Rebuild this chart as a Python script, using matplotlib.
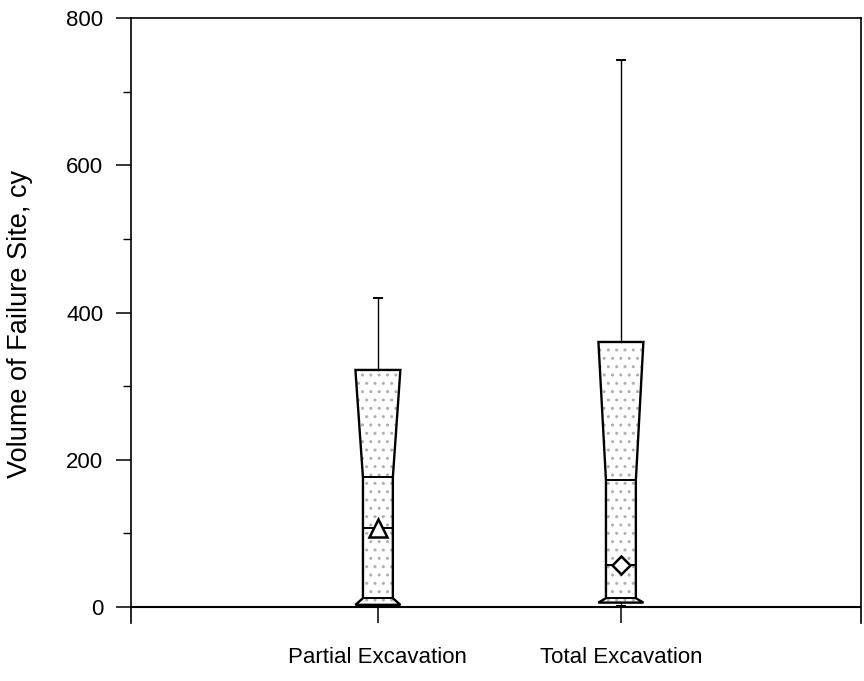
import matplotlib
matplotlib.use("Agg")
import matplotlib.pyplot as plt
from matplotlib.patches import Polygon

plt.rcParams['font.family'] = ['Liberation Sans', 'DejaVu Sans']
plt.rcParams['hatch.linewidth'] = 1.0

# values
categories = ['Partial Excavation', 'Total Excavation']
whisker_lo = [0, 1]
q1 = [3, 6]
notch_lo = [12, 12]
median = [176, 172]
q3 = [322, 360]
whisker_hi = [420, 743]
means = [108, 57]
mean_markers = ['^', 'D']

fig = plt.figure(figsize=(8.64, 6.81), dpi=100)
ax = fig.add_axes([131 / 864, 1 - 623 / 681, 730 / 864, 605 / 681])

w_full = 0.185
w_notch = 0.123
cap = 0.035

for i, name in enumerate(categories):
    x = i + 1
    pts = [(x - w_full / 2, q1[i]), (x + w_full / 2, q1[i]),
           (x + w_notch / 2, notch_lo[i]), (x + w_notch / 2, median[i]),
           (x + w_full / 2, q3[i]), (x - w_full / 2, q3[i]),
           (x - w_notch / 2, median[i]), (x - w_notch / 2, notch_lo[i])]
    # stippled fill, then outline
    ax.add_patch(Polygon(pts, closed=True, facecolor='white', edgecolor='#b0b0b0',
                         hatch='..', lw=0, zorder=2))
    ax.add_patch(Polygon(pts, closed=True, fill=False, edgecolor='black', lw=1.7, zorder=3))

    # whiskers
    ax.plot([x, x], [q3[i], whisker_hi[i]], color='black', lw=1.0, zorder=3)
    ax.plot([x - cap / 2, x + cap / 2], [whisker_hi[i]] * 2, color='black', lw=1.4, zorder=3)
    ax.plot([x, x], [whisker_lo[i], q1[i]], color='black', lw=1.0, zorder=3)
    ax.plot([x - cap / 2, x + cap / 2], [whisker_lo[i]] * 2, color='black', lw=1.4, zorder=3)

    # median, notch base and mean lines
    for yv in (median[i], notch_lo[i], means[i]):
        ax.plot([x - w_notch / 2, x + w_notch / 2], [yv, yv], color='black', lw=1.4, zorder=4)
    ax.plot(x, means[i], marker=mean_markers[i], markersize=13 if i == 0 else 9,
            markerfacecolor='white', markeredgecolor='black', markeredgewidth=1.8,
            linestyle='none', zorder=5)

ax.axhline(0, color='black', lw=1.5, zorder=1)

ax.set_xlim(-0.016, 2.988)
ax.set_ylim(-21.7, 800)
ax.set_xticks([1, 2])
ax.set_xticklabels(categories, fontsize=16)
ax.set_yticks([0, 200, 400, 600, 800])
ax.set_yticks([100, 300, 500, 700], minor=True)
ax.tick_params(axis='y', which='major', direction='out', length=11, width=1.1,
               labelsize=16, pad=9)
ax.tick_params(axis='y', which='minor', direction='out', length=6, width=1.0)
ax.tick_params(axis='x', which='major', direction='in', length=11.5, width=1.1, pad=17)
ax.spines['bottom'].set_visible(False)
for s in ('left', 'right', 'top'):
    ax.spines[s].set_linewidth(1.2)

fig.text(20 / 864, 1 - 324 / 681, 'Volume of Failure Site, cy', rotation=90,
         ha='center', va='center', fontsize=19.5)

fig.savefig('out.png', dpi=100)
